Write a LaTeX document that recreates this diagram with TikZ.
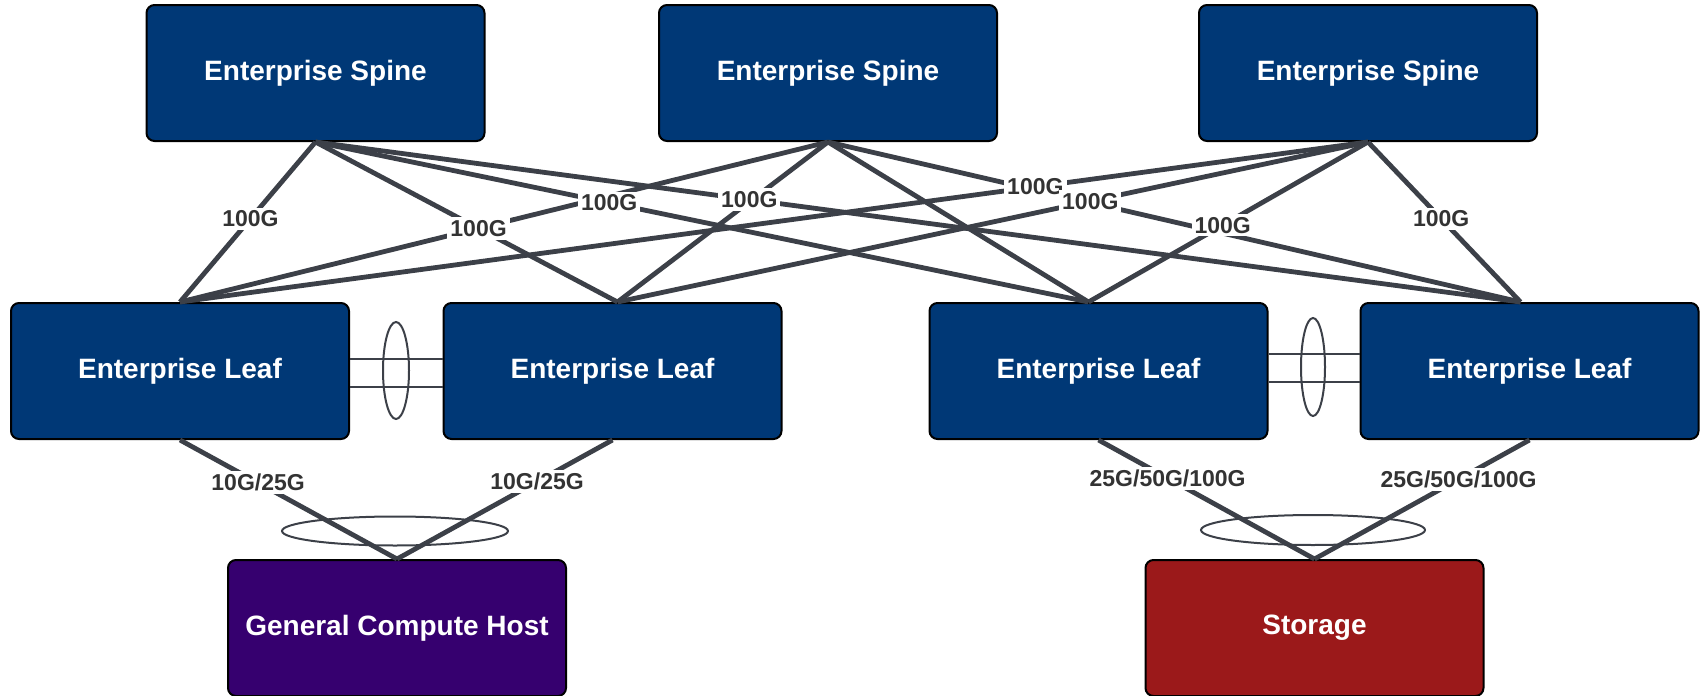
\documentclass[tikz,border=0pt]{standalone}
\usepackage{fontspec}
\setmainfont{Liberation Sans}
\usepackage{xcolor}
\definecolor{spineblue}{RGB}{0,56,118}
\definecolor{hostpurple}{RGB}{54,0,111}
\definecolor{storered}{RGB}{155,25,26}
\definecolor{wiregrey}{RGB}{60,64,72}
\definecolor{labelgrey}{RGB}{51,51,51}

\tikzset{
  box/.style={draw=black, line width=2pt, rounded corners=8pt, fill=spineblue,
    minimum width=338pt, minimum height=136pt, text=white,
    font=\fontsize{28}{34}\selectfont\bfseries},
  wire/.style={draw=wiregrey, line width=4.8pt},
  lag/.style={draw=wiregrey, line width=2pt},
  speed/.style={fill=white, text=labelgrey, inner sep=3pt,
    font=\fontsize{23}{26}\selectfont\bfseries}
}

\begin{document}
\begin{tikzpicture}[x=1pt, y=-1pt]
\useasboundingbox (0,0) rectangle (1700,696);

\node[box] (s1) at (315.5,73) {Enterprise Spine};
\node[box] (s2) at (828,73) {Enterprise Spine};
\node[box] (s3) at (1368,73) {Enterprise Spine};

\node[box] (l1) at (180,371) {Enterprise Leaf};
\node[box] (l2) at (612.5,371) {Enterprise Leaf};
\node[box] (l3) at (1098.5,371) {Enterprise Leaf};
\node[box] (l4) at (1529.5,371) {Enterprise Leaf};

\node[box, fill=hostpurple] (host) at (397,628) {General Compute Host};
\node[box, fill=storered] (stor) at (1314.5,628) {Storage};

\coordinate (l1top) at (l1.north);
\coordinate (l2top) at ([xshift=5pt]l2.north);
\coordinate (l3top) at ([xshift=-10pt]l3.north);
\coordinate (l4top) at ([xshift=-9pt]l4.north);

\foreach \s in {s1,s2,s3}
  \foreach \l in {l1top,l2top,l3top,l4top}
    \draw[wire] (\s.south) -- (\l);

\path (s1.south) -- (l1top) node[speed, pos=.48] (g11) {100G};
\path (s1.south) -- (l2top) node[speed, pos=.54] (g12) {100G};
\path (s1.south) -- (l3top) node[speed, pos=.38] (g13) {100G};
\path (s1.south) -- (l4top) node[speed, pos=.36] (g14) {100G};
\path (s3.south) -- (l1top) node[speed, pos=.28] (g31) {100G};
\path (s3.south) -- (l2top) node[speed, pos=.37] (g32) {100G};
\path (s3.south) -- (l3top) node[speed, pos=.52] (g33) {100G};
\path (s3.south) -- (l4top) node[speed, pos=.48] (g34) {100G};

\draw[lag] ([yshift=12pt]l1.east) -- ([yshift=12pt]l2.west);
\draw[lag] ([yshift=-16pt]l1.east) -- ([yshift=-16pt]l2.west);
\draw[lag] (396,370.5) ellipse [x radius=13, y radius=48.5];
\draw[lag] ([yshift=17pt]l3.east) -- ([yshift=17pt]l4.west);
\draw[lag] ([yshift=-11pt]l3.east) -- ([yshift=-11pt]l4.west);
\draw[lag] (1313,367) ellipse [x radius=12, y radius=49];

\draw[lag] (395,531) ellipse [x radius=113, y radius=14.5];
\draw[lag] (1313,530) ellipse [x radius=112, y radius=15];

\draw[wire] (l1.south) -- (host.north) node[speed, pos=.36] (h1) {10G/25G};
\draw[wire] (l2.south) -- (host.north) node[speed, pos=.35] (h2) {10G/25G};
\draw[wire] (l3.south) -- (stor.north) node[speed, pos=.32] (t1) {25G/50G/100G};
\draw[wire] (l4.south) -- (stor.north) node[speed, pos=.33] (t2) {25G/50G/100G};
\end{tikzpicture}
\end{document}
